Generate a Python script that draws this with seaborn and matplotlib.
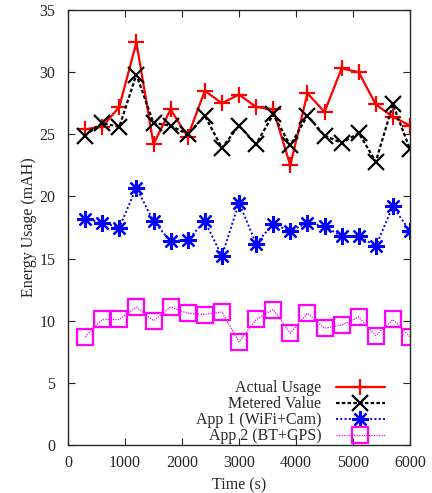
import matplotlib
matplotlib.use("Agg")
import matplotlib.pyplot as plt
import seaborn as sns
import pandas as pd

time_s = [300, 600, 900, 1200, 1500, 1800, 2100, 2400, 2700, 3000,
          3300, 3600, 3900, 4200, 4500, 4800, 5100, 5400, 5700, 6000]
actual_usage = [25.4, 25.6, 27.2, 32.4, 24.2, 27.0, 24.8, 28.5, 27.5, 28.2,
                27.2, 27.0, 22.5, 28.3, 26.8, 30.3, 30.0, 27.4, 26.4, 25.7]
metered_value = [24.9, 25.9, 25.6, 29.8, 25.9, 25.7, 25.0, 26.5, 23.9, 25.7,
                 24.2, 26.6, 24.1, 26.5, 24.9, 24.3, 25.1, 22.8, 27.4, 23.8]
app1_wifi_cam = [18.2, 17.9, 17.5, 20.7, 18.0, 16.4, 16.5, 18.0, 15.2, 19.5,
                 16.2, 17.8, 17.2, 17.9, 17.6, 16.8, 16.8, 16.0, 19.2, 17.2]
app2_bt_gps = [8.7, 10.1, 10.1, 11.1, 10.0, 11.1, 10.6, 10.5, 10.7, 8.3,
               10.1, 10.9, 9.0, 10.6, 9.4, 9.65, 10.3, 8.8, 10.1, 8.7]

labels = ["Actual Usage", "Metered Value", "App 1 (WiFi+Cam)", "App 2 (BT+GPS)"]
series = [actual_usage, metered_value, app1_wifi_cam, app2_bt_gps]

sns.set_style("ticks")
plt.rcParams['font.family'] = ['Liberation Serif', 'DejaVu Serif']
plt.rcParams['xtick.direction'] = 'in'
plt.rcParams['ytick.direction'] = 'in'
plt.rcParams['xtick.top'] = True
plt.rcParams['ytick.right'] = True

fig = plt.figure(figsize=(4.32, 4.93), dpi=100)
ax = fig.add_axes([68/432, 1-445/493, 342/432, 435/493])

styles = [
    dict(color="#ff0000", linestyle="-", linewidth=1.6, marker="+", markersize=12,
         markeredgewidth=1.6, markeredgecolor="#ff0000"),
    dict(color="#000000", linestyle=(0, (1.6, 1.0)), linewidth=1.6, marker="x", markersize=11.5,
         markeredgewidth=1.6, markeredgecolor="#000000"),
    dict(color="#0000ff", linestyle=(0, (1.0, 1.2)), linewidth=1.4, marker=(8, 2, 0), markersize=12,
         markeredgewidth=1.6, markeredgecolor="#0000ff"),
    dict(color="#ff00ff", linestyle=(0, (1.0, 1.0)), linewidth=0.9, marker="s", markersize=11,
         markeredgewidth=1.6, markerfacecolor="none", markeredgecolor="#ff00ff"),
]

for lab, vals, st in zip(labels, series, styles):
    df = pd.DataFrame({"Time (s)": time_s, "Energy": vals})
    sns.lineplot(data=df, x="Time (s)", y="Energy", ax=ax, label=lab, **st)

ax.set_xlim(0, 6000)
ax.set_ylim(0, 35)
ax.set_xticks(range(0, 6001, 1000))
ax.set_yticks(range(0, 36, 5))
ax.tick_params(labelsize=11.5, length=5, width=0.8)
ax.tick_params(axis="y", pad=9)
ax.tick_params(axis="x", pad=7)
for sp in ax.spines.values():
    sp.set_linewidth(1.0)
ax.set_xlabel("Time (s)", fontsize=11.5, labelpad=5)
ax.set_ylabel("Energy Usage (mAH)", fontsize=11.5, labelpad=2)

handles = ax.lines[:4]
ax.legend(handles, labels, loc="lower right", bbox_to_anchor=(0.955, -0.02), frameon=False,
          markerfirst=False, fontsize=11.5, handlelength=3.1, labelspacing=0.0,
          handletextpad=0.9, borderaxespad=0.2)

fig.savefig("out.png", dpi=100)
